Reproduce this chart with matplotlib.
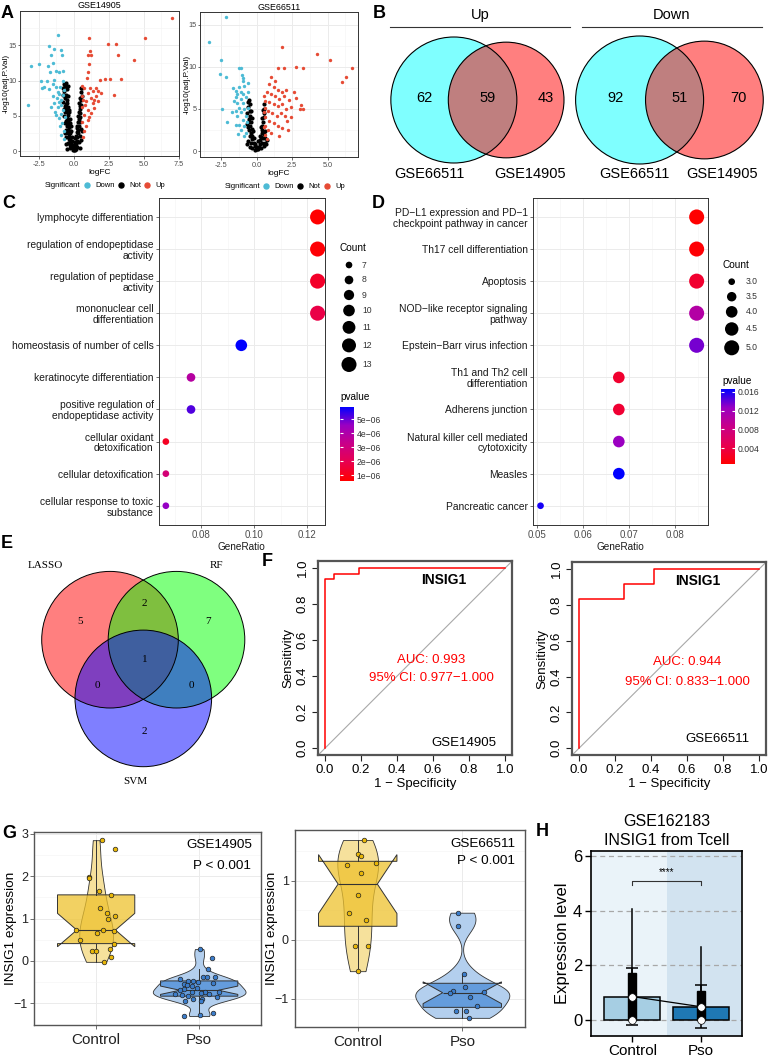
import numpy as np
import matplotlib
matplotlib.use("Agg")
import matplotlib.pyplot as plt
from matplotlib.patches import Circle
from matplotlib.lines import Line2D
from matplotlib.colors import LinearSegmentedColormap, Normalize, to_rgba
from matplotlib.cm import ScalarMappable
from matplotlib.ticker import MultipleLocator
from matplotlib import cbook

plt.rcParams["font.family"] = ["Liberation Sans", "DejaVu Sans"]

W, H = 769, 1062

# --- A: volcano plots, (logFC, -log10 adj.P.Val) ---
a1_down = [(-3.31, 6.5), (-3.07, 12.1), (-2.48, 12.4), (-2.36, 9.9), (-1.93, 9.9), (-2.29, 8.95),
           (-1.76, 14.9), (-1.16, 16.5), (-1.45, 14.5), (-0.93, 14.3), (-1.64, 13.7), (-0.88, 13.7),
           (-1.88, 12.1), (-1.52, 12.5), (-1.29, 11.4), (-1.05, 11.3), (-0.76, 11.4), (-1.69, 11.3),
           (-1.40, 10.1), (-1.52, 9.6), (-2.12, 9.1), (-1.81, 8.8), (-1.29, 9.1), (-1.48, 7.8),
           (-1.05, 8.1), (-1.64, 6.3), (-1.40, 6.8), (-1.17, 6.3), (-0.93, 7.3), (-0.81, 5.9),
           (-1.29, 5.1), (-1.05, 4.7), (-0.86, 4.0), (-0.74, 2.8), (-0.93, 2.3), (-0.71, 1.7),
           (-0.81, 8.0), (-1.00, 9.1), (-0.71, 8.7), (-1.17, 8.4), (-0.81, 9.9), (-1.33, 5.6),
           (-0.67, 4.9), (-0.98, 3.6), (-1.1, 7.0), (-0.9, 6.6), (-1.2, 7.6), (-0.95, 5.3)]
a1_not = [(-0.55, 9.7), (-0.62, 9.2), (-0.5, 8.8), (-0.68, 8.5), (-0.55, 8.0), (-0.62, 7.5), (-0.48, 7.2),
          (-0.58, 6.7), (-0.45, 6.3), (-0.6, 6.0), (-0.5, 5.5), (-0.4, 5.1), (-0.52, 4.7), (-0.4, 4.3),
          (-0.45, 3.8), (-0.35, 3.4), (-0.42, 3.0), (-0.3, 2.6), (-0.35, 2.2), (-0.25, 1.8), (-0.3, 1.4),
          (-0.2, 1.1), (-0.15, 0.7), (-0.1, 0.4), (0.0, 0.1), (0.05, 0.3), (0.1, 0.6), (-0.05, 0.8),
          (0.15, 1.0), (0.2, 1.5), (0.25, 2.0), (0.3, 2.5), (0.3, 3.0), (0.35, 3.6), (0.4, 4.2),
          (0.4, 4.8), (0.45, 5.4), (0.45, 6.0), (0.5, 6.6), (0.5, 7.2), (0.55, 7.8), (0.5, 8.4),
          (0.55, 9.0), (-0.7, 5.0), (-0.65, 4.0), (-0.6, 3.0), (-0.55, 2.0), (-0.45, 1.2), (0.35, 1.3),
          (0.42, 2.2), (0.48, 3.2), (-0.75, 7.0), (-0.72, 6.0), (-0.3, 4.0), (0.3, 5.0), (-0.25, 0.5),
          (0.25, 0.6), (0.0, 0.6), (-0.15, 2.0), (0.15, 2.2), (-0.8, 8.0), (-0.78, 9.0), (-0.35, 5.8),
          (0.38, 6.8), (-0.5, 0.3), (0.45, 0.5), (0.5, 1.6), (-0.6, 1.0), (0.55, 2.8), (-0.25, 2.9),
          (0.2, 3.5), (-0.65, 2.5), (-0.7, 9.5), (-0.45, 9.3), (-0.68, 7.9), (-0.42, 7.8), (-0.5, 6.9),
          (-0.66, 6.4), (-0.38, 5.5), (-0.62, 5.5), (-0.3, 4.6), (-0.55, 4.3), (-0.22, 3.6),
          (-0.52, 3.5), (-0.18, 2.8), (-0.45, 2.6), (-0.12, 1.5), (-0.38, 1.7), (0.05, 1.3),
          (0.1, 1.8), (0.2, 2.7), (0.25, 3.3), (0.3, 4.1), (0.35, 4.5), (0.38, 5.6), (0.42, 6.4),
          (0.45, 7.5), (0.48, 8.9), (0.08, 0.2), (-0.05, 0.15), (0.18, 0.3), (-0.3, 0.9)]
a1_up = [(7.0, 18.95), (5.07, 16.1), (1.07, 16.1), (2.45, 15.2), (3.0, 15.2), (3.12, 13.7), (4.26, 12.9),
         (1.12, 14.2), (1.02, 13.7), (1.21, 13.7), (1.10, 12.3), (0.98, 11.3), (0.93, 10.4), (1.88, 10.1),
         (2.21, 10.2), (2.60, 10.2), (3.36, 10.2), (2.88, 8.0), (0.57, 9.3), (0.69, 9.0), (1.12, 9.0),
         (1.57, 8.95), (1.38, 8.5), (1.71, 8.5), (0.98, 8.3), (0.6, 7.8), (1.21, 7.6), (1.57, 7.8),
         (1.93, 8.2), (0.86, 7.1), (1.33, 6.9), (1.69, 7.1), (0.6, 6.3), (0.98, 5.9), (1.45, 6.1),
         (0.74, 5.1), (1.10, 4.9), (0.6, 4.2), (0.86, 3.5), (0.69, 2.8), (0.62, 7.3), (1.02, 4.4),
         (0.65, 2.0), (1.25, 5.4), (0.8, 6.6), (1.4, 7.3)]

a2_down = [(-2.19, 15.9), (-3.38, 12.9), (-2.55, 10.8), (-2.62, 9.1), (-2.14, 8.8), (-1.69, 7.5),
           (-2.43, 5.0), (-2.07, 3.4), (-1.24, 9.8), (-1.10, 9.8), (-1.05, 9.0), (-1.0, 8.3),
           (-0.88, 7.7), (-1.24, 7.6), (-1.48, 7.1), (-1.12, 7.0), (-1.36, 6.8), (-1.0, 6.8),
           (-1.48, 6.4), (-1.12, 6.2), (-0.76, 6.4), (-1.36, 5.7), (-1.0, 5.7), (-1.24, 5.1),
           (-0.88, 5.0), (-1.12, 4.6), (-1.36, 4.2), (-0.76, 4.2), (-1.0, 3.7), (-1.24, 3.1),
           (-0.88, 3.0), (-1.12, 2.5), (-0.76, 2.2), (-1.43, 3.1), (-1.62, 6.0), (-0.64, 5.1),
           (-0.64, 7.0), (-1.74, 4.6), (-1.0, 8.7), (-0.64, 8.1), (-1.48, 4.8), (-0.9, 1.8),
           (-1.3, 2.0), (-0.7, 3.5)]
a2_not = [(-0.55, 6.1), (-0.5, 5.6), (-0.6, 5.2), (-0.5, 4.7), (-0.45, 4.2), (-0.55, 3.8), (-0.4, 3.4),
          (-0.45, 3.0), (-0.35, 2.6), (-0.4, 2.2), (-0.3, 1.8), (-0.3, 1.4), (-0.2, 1.0), (-0.15, 0.6),
          (-0.05, 0.3), (0.05, 0.2), (0.15, 0.5), (0.2, 0.9), (0.25, 1.3), (0.3, 1.7), (0.35, 2.1),
          (0.4, 2.5), (0.4, 3.0), (0.45, 3.5), (0.5, 4.0), (0.5, 4.5), (0.55, 5.0), (0.5, 5.6),
          (-0.65, 4.5), (-0.6, 3.5), (-0.55, 2.5), (-0.5, 1.8), (-0.4, 1.0), (0.35, 1.0), (0.45, 1.5),
          (0.55, 2.0), (0.6, 1.0), (-0.6, 1.2), (-0.1, 0.9), (0.0, 0.5), (0.1, 1.2), (-0.2, 1.6),
          (0.2, 1.8), (0.6, 1.5), (0.65, 0.8), (-0.65, 0.8), (-0.3, 0.4), (0.3, 0.4), (-0.5, 0.5),
          (0.5, 0.6), (0.75, 1.3), (-0.6, 2.9), (-0.38, 4.8), (-0.32, 3.9), (-0.25, 2.4), (0.32, 2.9),
          (0.38, 3.9), (0.42, 4.9), (-0.62, 5.8), (-0.68, 3.2), (0.62, 2.4), (-0.1, 0.1), (0.1, 0.3)]
a2_up = [(4.24, 11.5), (5.2, 10.8), (6.7, 9.8), (6.3, 8.8), (6.0, 8.2), (2.8, 10.0), (3.3, 9.8),
         (1.9, 9.8), (2.8, 6.3), (2.3, 6.1), (3.1, 5.5), (3.06, 5.0), (3.3, 5.0), (2.4, 5.2),
         (2.15, 3.6), (1.8, 12.4), (1.5, 9.9), (1.0, 8.8), (0.9, 8.0), (1.2, 7.6), (1.5, 7.3),
         (1.8, 7.0), (2.1, 7.3), (0.7, 7.0), (1.0, 6.8), (1.3, 6.5), (1.6, 6.2), (1.9, 6.5),
         (0.6, 6.0), (0.9, 5.8), (1.2, 5.6), (1.5, 5.3), (1.8, 5.6), (2.1, 5.0), (0.6, 5.1),
         (0.8, 4.7), (1.1, 4.5), (1.4, 4.2), (1.7, 4.5), (2.0, 4.2), (0.6, 4.0), (0.9, 3.6),
         (1.2, 3.3), (1.5, 3.0), (1.8, 2.7), (0.6, 3.0), (0.8, 2.5), (1.0, 2.1), (0.6, 1.9),
         (0.7, 1.4), (2.4, 4.0), (2.6, 7.0), (1.3, 8.3), (0.55, 2.8), (0.55, 4.6), (0.55, 6.5),
         (1.6, 1.8), (2.2, 2.5)]
volcano_titles = ["GSE14905", "GSE66511"]
sig_levels = ["Down", "Not", "Up"]

# --- B: overlap of DEGs ---
venn_sets = ["GSE66511", "GSE14905"]
venn_up = [62, 59, 43]      # only GSE66511, both, only GSE14905
venn_down = [92, 51, 70]

# --- C: GO enrichment ---
go_terms = ["lymphocyte differentiation", "regulation of endopeptidase\nactivity",
            "regulation of peptidase\nactivity", "mononuclear cell\ndifferentiation",
            "homeostasis of number of cells", "keratinocyte differentiation",
            "positive regulation of\nendopeptidase activity", "cellular oxidant\ndetoxification",
            "cellular detoxification", "cellular response to toxic\nsubstance"]
go_ratio = [0.124, 0.124, 0.124, 0.124, 0.0952, 0.0762, 0.0762, 0.0667, 0.0667, 0.0667]
go_count = [13, 13, 13, 13, 10, 8, 8, 7, 7, 7]
go_pvalue = [0.6e-6, 0.7e-6, 1.3e-6, 1.8e-6, 5.9e-6, 3.8e-6, 5.2e-6, 1.2e-6, 2.8e-6, 4.6e-6]

# --- D: KEGG enrichment ---
kegg_terms = ["PD\u2212L1 expression and PD\u22121\ncheckpoint pathway in cancer",
              "Th17 cell differentiation", "Apoptosis",
              "NOD\u2212like receptor signaling\npathway", "Epstein\u2212Barr virus infection",
              "Th1 and Th2 cell\ndifferentiation", "Adherens junction",
              "Natural killer cell mediated\ncytotoxicity", "Measles", "Pancreatic cancer"]
kegg_ratio = [0.0847, 0.0847, 0.0847, 0.0847, 0.0847, 0.0678, 0.0678, 0.0678, 0.0678, 0.0508]
kegg_count = [5, 5, 5, 5, 5, 4, 4, 4, 4, 3]
kegg_pvalue = [0.0006, 0.0008, 0.003, 0.0105, 0.0135, 0.003, 0.0032, 0.0125, 0.0166, 0.016]

# --- E: feature selection overlap ---
e_sets = ["LASSO", "RF", "SVM"]
e_counts = [5, 2, 7, 0, 1, 0, 2]   # L, L&R, R, L&S, all, R&S, S

# --- F: ROC ---
roc1_fpr = [0, 0, 0.048, 0.048, 0.19, 0.19, 1.0]
roc1_tpr = [0, 0.939, 0.939, 0.970, 0.970, 1.0, 1.0]
roc2_fpr = [0, 0, 0.25, 0.25, 0.417, 0.417, 1.0]
roc2_tpr = [0, 0.833, 0.833, 0.917, 0.917, 1.0, 1.0]
roc_auc = ["AUC: 0.993", "AUC: 0.944"]
roc_ci = ["95% CI: 0.977\u22121.000", "95% CI: 0.833\u22121.000"]
roc_gse = ["GSE14905", "GSE66511"]

# --- G: INSIG1 expression (jittered points: x, value) ---
g_groups = ["Control", "Pso"]
g1_ctrl = [(1.054, 2.85), (1.187, 2.64), (0.93, 1.99), (0.935, 1.95), (1.03, 1.64), (1.14, 1.56),
           (1.04, 1.24), (1.11, 1.14), (1.12, 0.99), (1.18, 1.05), (1.07, 0.73), (0.80, 0.72),
           (1.17, 0.70), (1.006, 0.67), (0.845, 0.49), (1.17, 0.41), (1.13, 0.29), (0.96, 0.24),
           (1.0, 0.23), (1.145, 0.09), (1.08, -0.02)]
g1_pso = [(2.01, 0.28), (2.12, 0.08), (2.09, -0.20), (2.04, -0.38), (2.075, -0.38), (2.15, -0.38),
          (1.81, -0.42), (1.89, -0.47), (1.94, -0.47), (1.99, -0.50), (1.85, -0.55), (1.88, -0.57),
          (1.93, -0.59), (1.98, -0.63), (2.13, -0.53), (1.85, -0.65), (1.81, -0.69), (2.06, -0.73),
          (2.02, -0.76), (1.93, -0.73), (2.10, -0.77), (2.19, -0.74), (1.83, -0.81), (1.89, -0.83),
          (1.94, -0.89), (2.03, -0.89), (2.17, -0.85), (1.77, -0.77), (1.86, -0.95), (2.02, -0.95),
          (1.85, -1.30), (2.01, -1.27), (2.13, -1.23)]
g2_ctrl = [(1.06, 1.69), (1.0, 1.46), (1.03, 1.42), (0.90, 1.27), (1.17, 1.30), (1.03, 1.13),
           (1.0, 0.76), (0.92, 0.45), (1.08, 0.34), (0.97, -0.10), (1.10, -0.10), (1.0, -0.53)]
g2_pso = [(1.96, 0.46), (1.96, 0.24), (2.02, -0.57), (1.91, -0.86), (2.03, -0.79), (1.88, -0.90),
          (2.07, -0.96), (2.21, -0.89), (2.14, -1.12), (1.94, -1.21), (2.04, -1.21), (2.06, -1.32)]
g_gse = ["GSE14905", "GSE66511"]

# --- H: single cell, T cells ---
h_groups = ["Control", "Pso"]
h_mean = [0.86, 0.49]
h_sd = [1.03, 0.78]
h_q1 = [0.0, 0.0]
h_med = [0.0, 0.0]
h_q3 = [1.72, 1.08]
h_whislo = [0.0, 0.0]
h_whishi = [4.06, 2.67]


fig = plt.figure(figsize=(W / 100, H / 100), dpi=100)


def add_ax(l, t, r, b):
    # axes from pixel box (top-left origin)
    return fig.add_axes([l / W, 1 - b / H, (r - l) / W, (b - t) / H])


def gg_style(ax, fs, labcol="#4D4D4D"):
    for s in ax.spines.values():
        s.set_color("#333333")
        s.set_linewidth(0.7)
    ax.grid(True, which="major", color="#EBEBEB", lw=0.7)
    ax.grid(True, which="minor", color="#F3F3F3", lw=0.4)
    ax.set_axisbelow(True)
    ax.tick_params(which="major", length=2.2, width=0.5, color="#333333",
                   labelsize=fs, labelcolor=labcol, pad=1.5)
    ax.tick_params(which="minor", length=0)


# ================= A =================
cols_sig = ["#4DBBD5", "black", "#E64B35"]
vol = [(a1_down, a1_not, a1_up, (20, 11, 179, 156), (-3.85, 7.45), (-0.7, 19.9),
        [-2.5, 0, 2.5, 5, 7.5], -0.066),
       (a2_down, a2_not, a2_up, (200, 12, 358, 157), (-4.0, 7.15), (-0.7, 16.5),
        [-2.5, 0, 2.5, 5], -0.062)]
for i, (dn, ns, up, box, xl, yl, xt, ylx) in enumerate(vol):
    ax = add_ax(*box)
    for pts, c, s in ((ns, cols_sig[1], 9), (dn, cols_sig[0], 6), (up, cols_sig[2], 6)):
        x, y = zip(*pts)
        ax.scatter(x, y, s=s, c=c, lw=0, zorder=3)
    ax.set_xlim(*xl)
    ax.set_ylim(*yl)
    ax.set_xticks(xt)
    ax.set_xticklabels(["%.1f" % v for v in xt])
    ax.set_yticks([0, 5, 10, 15])
    ax.xaxis.set_minor_locator(MultipleLocator(1.25))
    ax.yaxis.set_minor_locator(MultipleLocator(2.5))
    gg_style(ax, 5.3)
    ax.tick_params(axis="y", length=1.8, pad=0.8)
    ax.set_title(volcano_titles[i], fontsize=6.4, pad=1.8)
    ax.set_xlabel("logFC", fontsize=6, labelpad=0.8)
    ax.set_ylabel("-log10(adj.P.Val)", fontsize=5.9)
    ax.yaxis.set_label_coords(ylx, 0.5)
    hands = [Line2D([], [], ls="none")] + [
        Line2D([], [], ls="none", marker="o", ms=3.6, mfc=c, mec=c) for c in cols_sig]
    ax.legend(hands, ["Significant"] + sig_levels, ncol=4, loc="center",
              bbox_to_anchor=(0.5, -0.205), frameon=False, fontsize=5.5,
              handlelength=0.8, handletextpad=0.7, columnspacing=0.4, borderpad=0)

# ================= C / D =================
cmap_p = LinearSegmentedColormap.from_list(
    "pv", ["#FF0000", "#E8004F", "#C90088", "#9A00C2", "#0000FF"])


def count_size(cnt, cmin, cmax):
    return 23 + (np.asarray(cnt, float) - cmin) / (cmax - cmin) * 94


def dotplot(ax, terms, ratio, cnt, pv, norm, cmin, cmax, xl, xt, minor):
    yy = np.arange(len(terms))
    ax.scatter(ratio, yy, s=count_size(cnt, cmin, cmax), c=pv, cmap=cmap_p, norm=norm,
               lw=0, zorder=3, clip_on=False)
    ax.set_yticks(yy)
    ax.set_yticklabels(terms, linespacing=1.1)
    ax.set_ylim(len(terms) - 0.4, -0.6)
    ax.set_xlim(*xl)
    ax.set_xticks(xt)
    ax.xaxis.set_minor_locator(MultipleLocator(minor))
    gg_style(ax, 7.4, labcol="#1A1A1A")
    ax.tick_params(axis="x", labelcolor="#4D4D4D", labelsize=7)
    ax.set_xlabel("GeneRatio", fontsize=7.2, labelpad=1, color="#1A1A1A")


norm_c = Normalize(0.6e-6, 5.9e-6)
norm_d = Normalize(0.0006, 0.0166)
axc = add_ax(158.7, 197.7, 325, 525)
dotplot(axc, go_terms, go_ratio, go_count, go_pvalue, norm_c, 7, 13,
        (0.064, 0.1268), [0.08, 0.10, 0.12], 0.01)
axc.set_xticklabels(["0.08", "0.10", "0.12"])
axd = add_ax(532.7, 197.7, 707.7, 525)
dotplot(axd, kegg_terms, kegg_ratio, kegg_count, kegg_pvalue, norm_d, 3, 5,
        (0.0491, 0.0871), [0.05, 0.06, 0.07, 0.08], 0.005)
axd.set_xticklabels(["0.05", "0.06", "0.07", "0.08"])

for box, norm, ticks, labs in (
        ((340, 406.7, 354, 480.7), norm_c, [1e-6, 2e-6, 3e-6, 4e-6, 5e-6],
         ["1e\u221206", "2e\u221206", "3e\u221206", "4e\u221206", "5e\u221206"]),
        ((721, 389, 735, 464.3), norm_d, [0.004, 0.008, 0.012, 0.016],
         ["0.004", "0.008", "0.012", "0.016"])):
    cax = add_ax(*box)
    cb = fig.colorbar(ScalarMappable(norm=norm, cmap=cmap_p), cax=cax)
    cb.outline.set_visible(False)
    cb.set_ticks(ticks)
    cb.set_ticklabels(labs)
    cax.yaxis.set_ticks_position("both")
    cax.tick_params(length=2.5, width=0.8, color="white", direction="in",
                    labelsize=6.2, labelcolor="#333333", pad=2)

# ================= F: ROC =================
for i, (fpr, tpr, box, txy) in enumerate((
        (roc1_fpr, roc1_tpr, (317.8, 561, 512.2, 755.4), (0.59, 0.49, 0.39, 0.77, 0.03)),
        (roc2_fpr, roc2_tpr, (571.8, 562, 766.2, 755.4), (0.60, 0.48, 0.37, 0.77, 0.05)))):
    ax = add_ax(*box)
    ax.set_xlim(-0.04, 1.04)
    ax.set_ylim(-0.04, 1.04)
    ax.axline((0, 0), (1, 1), color="#A8A8A8", lw=0.8)
    ax.plot(fpr, tpr, color="red", lw=1.1)
    tk = [0, 0.2, 0.4, 0.6, 0.8, 1.0]
    ax.set_xticks(tk)
    ax.set_yticks(tk)
    ax.set_xticklabels(["%.1f" % v for v in tk])
    ax.set_yticklabels(["%.1f" % v for v in tk], rotation=90, va="center")
    ax.tick_params(length=4, width=0.8, labelsize=9.5, pad=2.5, color="#222222")
    for s in ax.spines.values():
        s.set_color("#555555")
        s.set_linewidth(1.6)
    ax.set_xlabel("1 \u2212 Specificity", fontsize=9.5, labelpad=1)
    ax.set_ylabel("Sensitivity", fontsize=9.5, labelpad=2)
    ax.text(0.66, 0.935, "INSIG1", fontsize=10, fontweight="bold", ha="center", va="center")
    ax.text(txy[0], txy[1], roc_auc[i], color="red", fontsize=9.5, ha="center", va="center")
    ax.text(txy[0], txy[2], roc_ci[i], color="red", fontsize=9.5, ha="center", va="center")
    ax.text(txy[3], txy[4], roc_gse[i], fontsize=9.5, ha="center", va="center")

# ================= G: violin + notched box =================
def nrd0(v):
    v = np.asarray(v)
    iqr = np.subtract(*np.percentile(v, [75, 25]))
    return 0.9 * min(v.std(ddof=1), iqr / 1.34) * len(v) ** -0.2


vio_cols = ["#F6E19C", "#B3CFEE"]
box_cols = [to_rgba("#EEC22E", 0.75), to_rgba("#4A8BD6", 0.75)]
pt_cols = ["#E9B708", "#3B7DCB"]

for i, (ctrl, pso, box, yl, ytk, lab_xy, ylx) in enumerate((
        (g1_ctrl, g1_pso, (34.3, 831.7, 261, 1025), (-1.51, 3.05), [-1, 0, 1, 2, 3],
         (0.962, 0.93, 0.82), -0.078),
        (g2_ctrl, g2_pso, (295, 830, 525, 1026.7), (-1.47, 1.86), [-1, 0, 1],
         (0.96, 0.93, 0.84), -0.074))):
    ax = add_ax(*box)
    vals = [np.array([p[1] for p in ctrl]), np.array([p[1] for p in pso])]
    grids, dens = [], []
    for v in vals:
        g = np.linspace(v.min(), v.max(), 300)
        bw = nrd0(v)
        d = np.exp(-0.5 * ((g[:, None] - v[None, :]) / bw) ** 2).sum(1) / (len(v) * bw * np.sqrt(2 * np.pi))
        grids.append(g)
        dens.append(d)
    dmax = max(d.max() for d in dens)
    for k in range(2):
        hw = 0.45 * dens[k] / dmax
        ax.fill_betweenx(grids[k], k + 1 - hw, k + 1 + hw, facecolor=vio_cols[k],
                         edgecolor="#333333", lw=0.6, zorder=2)
    stats = cbook.boxplot_stats(vals)
    bp = ax.bxp(stats, positions=[1, 2], widths=0.75, shownotches=True, patch_artist=True,
                showfliers=False, showcaps=False, zorder=3,
                boxprops=dict(edgecolor="#333333", lw=0.7),
                whiskerprops=dict(color="#333333", lw=0.7),
                medianprops=dict(color="#333333", lw=0.8))
    for k, patch in enumerate(bp["boxes"]):
        patch.set_facecolor(box_cols[k])
    for k, pts in enumerate((ctrl, pso)):
        x, y = zip(*pts)
        ax.scatter(x, y, s=11, c=pt_cols[k], edgecolors="#222222", lw=0.5, zorder=4)
    ax.set_xlim(0.4, 2.6)
    ax.set_ylim(*yl)
    ax.set_yticks(ytk)
    ax.yaxis.set_minor_locator(MultipleLocator(0.5))
    ax.set_xticks([1, 2])
    ax.set_xticklabels(g_groups)
    gg_style(ax, 9, labcol="#222222")
    ax.tick_params(axis="x", labelsize=11, pad=3, length=3)
    ax.tick_params(axis="y", length=3)
    for s in ax.spines.values():
        s.set_color("#555555")
        s.set_linewidth(1.0)
    ax.set_ylabel("INSIG1 expression", fontsize=9.7)
    ax.yaxis.set_label_coords(ylx, 0.5)
    ax.text(lab_xy[0], lab_xy[1], g_gse[i], transform=ax.transAxes, ha="right", va="center",
            fontsize=9.7)
    ax.text(lab_xy[0] - 0.005, lab_xy[2], "P < 0.001", transform=ax.transAxes, ha="right",
            va="center", fontsize=9.7)

# ================= H =================
axh = add_ax(590.7, 850.7, 742.3, 1035.7)
axh.axvspan(0.39, 1.5, color="#EAF3F9", zorder=0, lw=0)
axh.axvspan(1.5, 2.61, color="#D2E3F0", zorder=0, lw=0)
axh.bar([1, 2], h_mean, width=0.82, color=["#A6CEE3", "#1F78B4"], edgecolor="black",
        lw=1.1, zorder=2)
axh.errorbar([1, 2], h_mean, yerr=h_sd, fmt="none", ecolor="black", elinewidth=1.1,
             capsize=4.5, capthick=1.1, zorder=3)
hstats = [dict(med=h_med[k], q1=h_q1[k], q3=h_q3[k], whislo=h_whislo[k],
               whishi=h_whishi[k], fliers=[]) for k in range(2)]
axh.bxp(hstats, positions=[1, 2], widths=0.12, patch_artist=True, showcaps=False,
        showfliers=False, zorder=4,
        boxprops=dict(facecolor="black", edgecolor="black"),
        whiskerprops=dict(color="black", lw=1.1), medianprops=dict(color="black"))
axh.plot([1, 2], h_mean, color="black", lw=0.9, zorder=5)
axh.scatter([1, 2], h_mean, s=30, c="white", edgecolors="black", lw=0.5, zorder=6)
axh.scatter([1, 2], h_med, s=30, c="white", edgecolors="black", lw=0.5, zorder=6)
axh.plot([1, 1, 2, 2], [4.94, 5.1, 5.1, 4.94], color="#333333", lw=0.8, zorder=5)
axh.text(1.5, 5.22, "****", ha="center", va="bottom", fontsize=7)
axh.set_xlim(0.39, 2.61)
axh.set_ylim(-0.57, 6.19)
axh.set_yticks([0, 2, 4, 6])
axh.set_xticks([1, 2])
axh.set_xticklabels(h_groups)
axh.yaxis.grid(True, ls=(0, (4, 3)), color="#A8A8A8", lw=0.9)
axh.set_axisbelow(True)
axh.tick_params(labelsize=12, length=4, width=1.0, pad=2)
axh.tick_params(axis="x", labelsize=11)
for s in axh.spines.values():
    s.set_color("black")
    s.set_linewidth(1.2)
axh.set_ylabel("Expression level", fontsize=12, labelpad=2)
axh.set_title("GSE162183\nINSIG1 from Tcell", fontsize=11.5, linespacing=1.35, pad=4)

# ================= overlay: Venns, legends, letters =================
ov = fig.add_axes([0, 0, 1, 1], zorder=10)
ov.set_xlim(0, W)
ov.set_ylim(H, 0)
ov.axis("off")


def venn2(counts, cx, cy, dist, rmax, title, name_x):
    tot = np.array([counts[0] + counts[1], counts[1] + counts[2]], float)
    r = rmax * np.sqrt(tot / tot.max())
    xl, xr = cx - dist / 2, cx + dist / 2
    ov.add_patch(Circle((xl, cy), r[0], facecolor="cyan", alpha=0.5, lw=0))
    ov.add_patch(Circle((xr, cy), r[1], facecolor="red", alpha=0.5, lw=0))
    for x0, rr in ((xl, r[0]), (xr, r[1])):
        ov.add_patch(Circle((x0, cy), rr, fill=False, ec="black", lw=0.8))
    edges = [xl - r[0], xr - r[1], xl + r[0], xr + r[1]]
    for k in range(3):
        ov.text((edges[k] + edges[k + 1]) / 2 + 5, cy - 2, str(counts[k]), fontsize=10.5,
                ha="center", va="center")
    for k in range(2):
        ov.text(name_x[k], 174, venn_sets[k], fontsize=10.5, ha="center", va="center")
    ov.plot([cx - 90, cx + 90], [27, 27], color="#333333", lw=0.8)
    ov.text(cx, 15, title, fontsize=10.5, ha="center", va="center")


venn2(venn_up, 480, 100, 52.3, 63, "Up", (429, 530))
venn2(venn_down, 672, 100, 64.8, 64, "Down", (634, 722))

# E: three-set venn
e_centres = [(110, 639.7), (176.5, 639.7), (143.3, 698.4)]
for (x0, y0), c in zip(e_centres, ["red", "#00FF00", "blue"]):
    ov.add_patch(Circle((x0, y0), 68.3, facecolor=c, alpha=0.5, lw=0))
for x0, y0 in e_centres:
    ov.add_patch(Circle((x0, y0), 68.3, fill=False, ec="black", lw=0.7))
e_pos = [(80, 621.7), (144.3, 604), (208, 621.7), (97, 685), (144.3, 659), (191, 685), (144.3, 731.7)]
for (x0, y0), n in zip(e_pos, e_counts):
    ov.text(x0, y0, str(n), family="Liberation Serif", fontsize=8, ha="center", va="center")
for (x0, y0), nm in zip([(45, 566), (217, 566), (135, 781)], e_sets):
    ov.text(x0, y0, nm, family="Liberation Serif", fontsize=8, ha="center", va="center")

# size legends for C and D
for cnts, cmin, cmax, x0, y0, lx, labs, ty in (
        ([7, 8, 9, 10, 11, 12, 13], 7, 13, 349, 265, 362, ["7", "8", "9", "10", "11", "12", "13"], 248),
        ([3.0, 3.5, 4.0, 4.5, 5.0], 3, 5, 731.7, 281.7, 746,
         ["3.0", "3.5", "4.0", "4.5", "5.0"], 265)):
    ss = count_size(cnts, cmin, cmax)
    dd = np.sqrt(ss) / 0.72
    yy = [y0]
    for k in range(1, len(ss)):
        yy.append(yy[-1] + max((dd[k - 1] + dd[k]) / 2 + 4.6, 15))
    ov.scatter([x0] * len(ss), yy, s=ss, c="black", lw=0)
    for y, t in zip(yy, labs):
        ov.text(lx, y, t, fontsize=6.2, va="center", ha="left", color="#333333")
    ov.text(x0 - 9, ty, "Count", fontsize=7.2, va="center", ha="left")
ov.text(340, 397, "pvalue", fontsize=7.2, va="center", ha="left")
ov.text(722, 381, "pvalue", fontsize=7.2, va="center", ha="left")

for lt, x0, y0 in (("A", 1, 13), ("B", 373, 13), ("C", 2, 203), ("D", 372, 203),
                   ("E", 1, 544), ("F", 262, 562), ("G", 2, 834), ("H", 536, 831)):
    ov.text(x0, y0, lt, fontsize=13, fontweight="bold", ha="left", va="center")

fig.savefig("out.png", dpi=100)
